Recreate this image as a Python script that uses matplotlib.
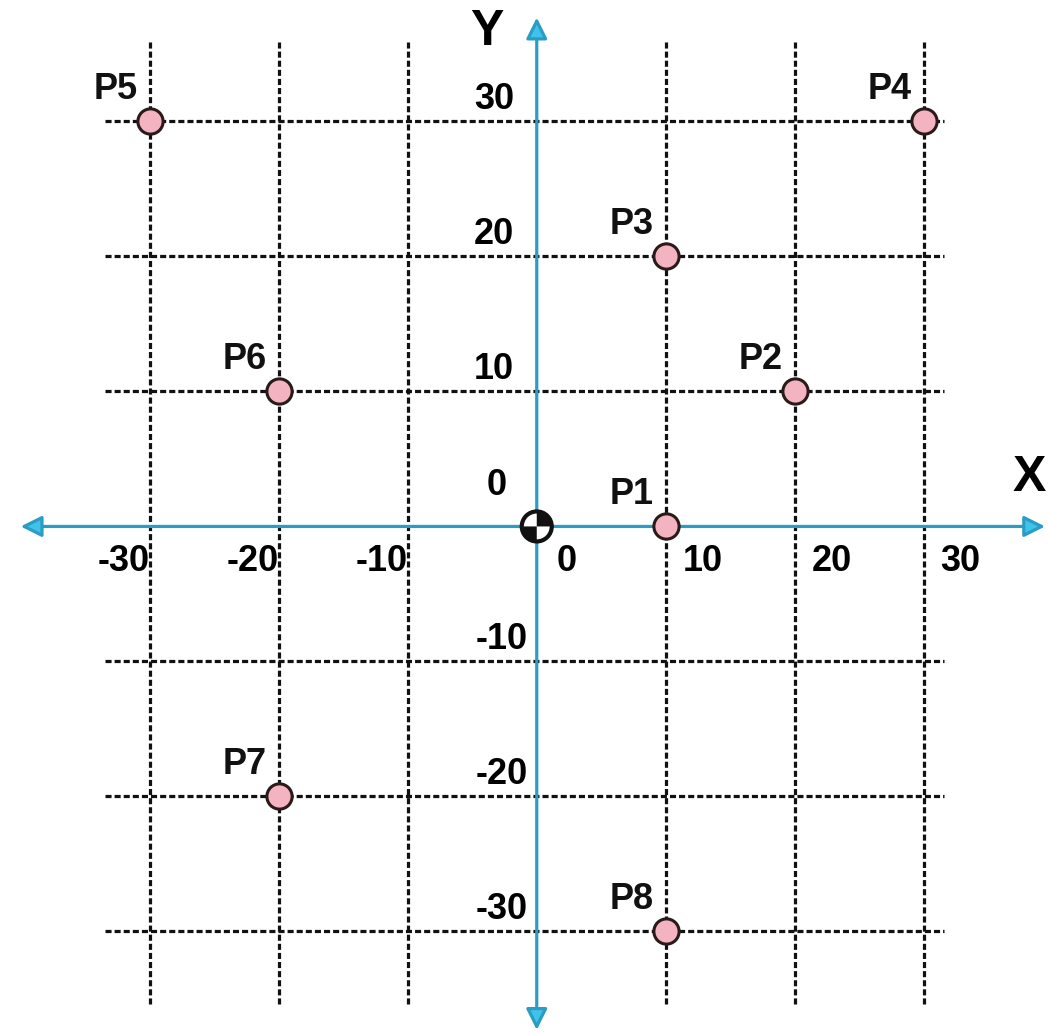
import matplotlib
matplotlib.use("Agg")
import matplotlib.pyplot as plt
from matplotlib.patches import Wedge, Circle
from matplotlib.transforms import ScaledTranslation

# ---- data ----
point_names = ["P1", "P2", "P3", "P4", "P5", "P6", "P7", "P8"]
point_x = [10, 20, 10, 30, -30, -20, -20, 10]
point_y = [0, 10, 20, 30, 30, 10, -20, -30]
grid_x = [-30, -20, -10, 10, 20, 30]
grid_y = [-30, -20, -10, 10, 20, 30]
x_tick_labels = ["-30", "-20", "-10", "10", "20", "30"]
y_tick_labels = ["-30", "-20", "-10", "10", "20", "30"]

plt.rcParams['font.family'] = ['Liberation Sans', 'DejaVu Sans']

fig = plt.figure(figsize=(10.49, 10.34), dpi=100)
ax = fig.add_axes([0, 0, 1, 1])
ax.set_xlim(-41.6, 39.7)
ax.set_ylim(-37.6, 39.0)
ax.axis('off')

dash = dict(color='#111111', lw=2.3, dashes=(1.9, 0.95), zorder=1)
for gx in grid_x:
    ax.plot([gx, gx], [-35.4, 36.1], **dash)
for gy in grid_y:
    ax.plot([-33.5, 31.6], [gy, gy], **dash)

axis_col = '#2b9cc4'
head_col = '#3ec3ea'
for tgt, src in [((39.4, 0), (0, 0)), ((-40.0, 0), (0, 0)),
                 ((0, 37.7), (0, 0)), ((0, -37.3), (0, 0))]:
    ax.annotate('', xy=tgt, xytext=src,
                arrowprops=dict(arrowstyle='-|>', color=axis_col, lw=2.3,
                                mutation_scale=32, fc=head_col,
                                shrinkA=0, shrinkB=0), zorder=2)

# origin symbol
tr = fig.dpi_scale_trans + ScaledTranslation(0, 0, ax.transData)
ax.add_patch(Circle((0, 0), 0.15, transform=tr, fc='white', ec='#111111', lw=3, zorder=4))
ax.add_patch(Wedge((0, 0), 0.15, 0, 90, transform=tr, fc='#111111', ec='none', zorder=5))
ax.add_patch(Wedge((0, 0), 0.15, 180, 270, transform=tr, fc='#111111', ec='none', zorder=5))

# points
ax.scatter(point_x, point_y, s=330, c='#f3b3c1', edgecolors='#2a1a1a',
           linewidths=2.2, zorder=6)
for name, px, py in zip(point_names, point_x, point_y):
    ax.annotate(name, (px, py), xytext=(-24.5, 23), textcoords='offset points',
                ha='center', va='center', fontsize=26, fontweight='bold',
                color='#111111', zorder=7)

fs = 26
for gx, lab in zip(grid_x, x_tick_labels):
    if gx < 0:
        ax.text(gx, -2.6, lab, ha='right', va='center', fontsize=fs, fontweight='bold')
    else:
        ax.text(gx + 1.3, -2.6, lab, ha='left', va='center', fontsize=fs, fontweight='bold')
for gy, lab in zip(grid_y, y_tick_labels):
    xc = -3.3 if gy > 0 else -2.7
    ax.text(xc, gy + 1.6, lab, ha='center', va='center', fontsize=fs, fontweight='bold')
ax.text(2.3, -2.6, "0", ha='center', va='center', fontsize=fs, fontweight='bold')
ax.text(-3.1, 3.0, "0", ha='center', va='center', fontsize=fs, fontweight='bold')

ax.text(38.2, 3.6, "X", ha='center', va='center', fontsize=36, fontweight='bold')
ax.text(-3.9, 36.6, "Y", ha='center', va='center', fontsize=36, fontweight='bold')

fig.savefig("out.png", dpi=100, facecolor='white')
